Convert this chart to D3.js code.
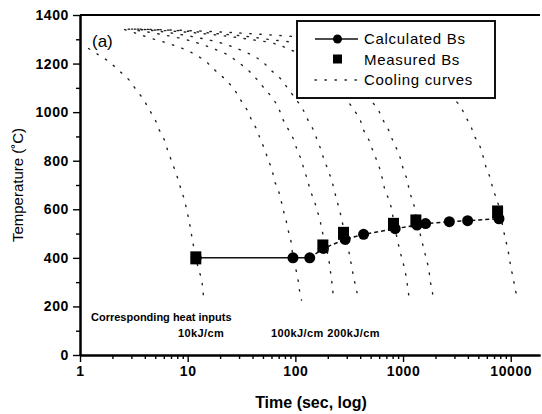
<!DOCTYPE html>
<html>
<head>
<meta charset="utf-8">
<script src="https://cdn.jsdelivr.net/npm/d3@7"></script>
<style>
  body { margin: 0; background: #fff; }
  svg { display: block; font-family: 'Liberation Sans', Arial, sans-serif; }
  .axis text { font-weight: bold; font-size: 14px; fill: #000; letter-spacing: 0.6px; }
  .axis path, .axis line { stroke: #000; }
  .cool { fill: none; stroke: #222; stroke-width: 1.4; stroke-dasharray: 1.4, 8.6; stroke-linecap: round; }
</style>
</head>
<body>
<svg id="chart" width="542" height="414"></svg>
<script>
// ---- data ----
const calcTime = [12, 95, 136, 182, 290, 430, 845, 1346, 1619, 2690, 3980, 7780];
const calcTemp = [400, 400, 400, 439, 476, 497, 520, 535, 541, 549, 553, 561];

const measTime = [11.9, 180, 280, 815, 1316, 7550];
const measTemp = [400, 449, 501, 538, 552, 589];

// cooling curves: [time (s), temperature (C)]
const cool10kJ = [[1.2, 1262], [1.46, 1238], [1.83, 1210], [2.27, 1173], [2.81, 1136], [3.29, 1095],
  [3.87, 1053], [4.37, 1012], [4.97, 970], [5.41, 929], [6.03, 889], [6.51, 844], [7.0, 805],
  [7.6, 762], [8.18, 720], [8.7, 680], [9.3, 641], [9.8, 597], [10.3, 553], [10.7, 512],
  [11.1, 470], [11.9, 400], [12.6, 355], [13.5, 309], [13.8, 268], [14.2, 226]];
const coolB = [[2.6, 1340], [3.3, 1325], [4.5, 1305], [6.29, 1286], [7.79, 1272], [9.64, 1256],
  [11.9, 1236], [14.8, 1208], [17.9, 1173], [22.2, 1136], [26.9, 1095], [30.6, 1054], [35.3, 1012],
  [39.3, 967], [43.7, 929], [47.6, 885], [52.2, 844], [56, 802], [60.6, 765], [63.7, 720],
  [69.4, 679], [73.5, 638], [77.2, 597], [81.8, 556], [86, 512], [91, 469], [95.3, 400],
  [100.5, 358], [106, 309], [109, 268], [114, 226]];
const coolC = [[2.8, 1342], [4, 1332], [6, 1318], [9, 1302], [12.1, 1286], [15, 1272], [18.6, 1256],
  [23.5, 1236], [28.9, 1208], [36.5, 1173], [43.7, 1136], [52.2, 1095], [62.3, 1054], [70.4, 1012],
  [77.3, 967], [86, 929], [97, 885], [104, 844], [114, 802], [120, 765], [130, 720], [137, 679],
  [149, 638], [158, 601], [169, 556], [177, 512], [188, 469], [196, 430], [205, 390], [211, 350],
  [217, 309], [222, 268], [228, 226]];
const coolD = [[3, 1342], [5, 1335], [8, 1322], [13, 1305], [20, 1286], [25, 1272], [31, 1256],
  [39, 1236], [48.7, 1210], [59.3, 1173], [73.5, 1136], [85.9, 1095], [101, 1054], [117, 1012],
  [130, 970], [145, 932], [158, 890], [172, 848], [184, 807], [200, 765], [217, 720], [230, 679],
  [242, 638], [256, 601], [270, 556], [283, 515], [298, 473], [312, 432], [324, 394], [338, 350],
  [352, 309], [371, 265], [384, 224]];
const coolE = [[3.2, 1342], [6, 1336], [12, 1326], [24, 1312], [40, 1298], [59, 1286], [75, 1272],
  [91, 1256], [115, 1236], [143, 1210], [174, 1173], [216, 1136], [253, 1095], [297, 1054],
  [345, 1013], [398, 970], [427, 929], [482, 885], [522, 844], [569, 802], [610, 765], [647, 720],
  [680, 679], [740, 638], [784, 601], [812, 560], [850, 515], [891, 469], [936, 429], [991, 387],
  [1040, 350], [1080, 309], [1117, 265], [1142, 224]];
const coolF = [[3.4, 1342], [8, 1336], [16, 1326], [35, 1312], [60, 1298], [97, 1286], [124, 1272],
  [150, 1256], [190, 1236], [236, 1210], [287, 1173], [356, 1136], [417, 1095], [490, 1054],
  [581, 1013], [647, 970], [729, 929], [800, 885], [875, 848], [950, 807], [1005, 765], [1094, 720],
  [1142, 679], [1219, 638], [1291, 601], [1340, 552], [1410, 515], [1490, 473], [1575, 429],
  [1657, 391], [1741, 350], [1778, 309], [1867, 265], [1906, 224]];
const coolG = [[3.6, 1342], [10, 1336], [30, 1326], [80, 1314], [150, 1305], [300, 1298], [590, 1286],
  [760, 1272], [915, 1256], [1160, 1236], [1440, 1210], [1750, 1173], [2170, 1136], [2540, 1095],
  [2990, 1054], [3428, 1022], [3812, 981], [4244, 944], [4584, 903], [5174, 860], [5556, 816],
  [5888, 775], [6412, 732], [6792, 690], [7290, 649], [7820, 608], [8300, 545], [8830, 487],
  [9280, 446], [9690, 402], [10040, 359], [10550, 318], [10940, 275], [11590, 233]];
const coolingCurves = [cool10kJ, coolB, coolC, coolD, coolE, coolF, coolG];

const xMajor = [1, 10, 100, 1000, 10000];
const yMajor = [0, 200, 400, 600, 800, 1000, 1200, 1400];

// ---- chart ----
const svg = d3.select('#chart');
const margin = {top: 15, right: 2, bottom: 59, left: 80},
    width = +svg.attr('width') - margin.left - margin.right,
    height = +svg.attr('height') - margin.top - margin.bottom;

const g = svg.append('g')
  .attr('transform', 'translate(' + margin.left + ',' + margin.top + ')');

const x = d3.scaleLog().domain([1, 18700]).range([0, width]);
const y = d3.scaleLinear().domain([0, 1400]).range([height, 0]);

// minor ticks
const xMinor = [];
xMajor.forEach(function(d) {
  for (let k = 2; k <= 9; k++) { if (d * k <= 18700) xMinor.push(d * k); }
});
const yMinor = d3.range(100, 1400, 200);

// cooling curves first, under everything
const line = d3.line()
  .x(function(d) { return x(d[0]); })
  .y(function(d) { return y(d[1]); })
  .curve(d3.curveCatmullRom);

g.selectAll('.cool')
  .data(coolingCurves)
  .enter()
  .append('path')
  .attr('class', 'cool')
  .attr('d', line);

// axes
g.append('g')
  .attr('class', 'axis')
  .attr('transform', 'translate(0,' + height + ')')
  .call(d3.axisBottom(x).tickValues(xMinor).tickSize(4).tickSizeOuter(0).tickFormat(''));

g.append('g')
  .attr('class', 'x axis')
  .attr('transform', 'translate(0,' + height + ')')
  .call(d3.axisBottom(x).tickValues(xMajor).tickSize(7).tickSizeOuter(0).tickPadding(4)
    .tickFormat(d3.format('d')));

g.append('g')
  .attr('class', 'axis')
  .call(d3.axisLeft(y).tickValues(yMinor).tickSize(4).tickSizeOuter(0).tickFormat(''));

g.append('g')
  .attr('class', 'y axis')
  .call(d3.axisLeft(y).tickValues(yMajor).tickSize(7).tickSizeOuter(0).tickPadding(4)
    .tickFormat(d3.format('d')));

g.selectAll('.axis path').attr('stroke-width', 2);
g.selectAll('.axis line').attr('stroke-width', 1.4);

// top frame line
g.append('line')
  .attr('x1', 0).attr('x2', width)
  .attr('y1', 0).attr('y2', 0)
  .attr('stroke', '#000').attr('stroke-width', 2);

// calculated Bs line: solid on the flat part, dashed after
const bsLine = d3.line()
  .x(function(d) { return x(d[0]); })
  .y(function(d) { return y(d[1]); });

const calc = calcTime.map(function(t, i) { return [t, calcTemp[i]]; });

g.append('path')
  .attr('d', bsLine(calc.slice(0, 3)))
  .attr('fill', 'none').attr('stroke', '#111').attr('stroke-width', 1.5);

g.append('path')
  .attr('d', bsLine(calc.slice(2)))
  .attr('fill', 'none').attr('stroke', '#111').attr('stroke-width', 1.5)
  .attr('stroke-dasharray', '4,3');

g.selectAll('.calc')
  .data(calc)
  .enter()
  .append('circle')
  .attr('class', 'calc')
  .attr('cx', function(d) { return x(d[0]); })
  .attr('cy', function(d) { return y(d[1]); })
  .attr('r', 5.5)
  .attr('fill', '#000');

g.selectAll('.meas')
  .data(measTime)
  .enter()
  .append('rect')
  .attr('class', 'meas')
  .attr('x', function(d) { return x(d) - 5.5; })
  .attr('y', function(d, i) { return y(measTemp[i]) - 6.5; })
  .attr('width', 11)
  .attr('height', 13)
  .attr('fill', '#000');

// legend
const lg = svg.append('g').attr('transform', 'translate(297,21)');
lg.append('rect')
  .attr('width', 198).attr('height', 77)
  .attr('fill', '#fff').attr('stroke', '#111').attr('stroke-width', 2);
lg.append('line')
  .attr('x1', 18).attr('x2', 61).attr('y1', 18).attr('y2', 18)
  .attr('stroke', '#111').attr('stroke-width', 1.5);
lg.append('circle').attr('cx', 40.5).attr('cy', 18).attr('r', 4.5).attr('fill', '#000');
lg.append('rect').attr('x', 36).attr('y', 33.5).attr('width', 9).attr('height', 9).attr('fill', '#000');
lg.append('line')
  .attr('x1', 18).attr('x2', 61).attr('y1', 59).attr('y2', 59)
  .attr('class', 'cool');
const legendLabels = ['Calculated Bs', 'Measured Bs', 'Cooling curves'];
lg.selectAll('.lgtext')
  .data(legendLabels)
  .enter()
  .append('text')
  .attr('class', 'lgtext')
  .attr('x', 67)
  .attr('y', function(d, i) { return 18 + i * 20.5; })
  .attr('dy', '0.36em')
  .attr('font-size', '15px')
  .attr('letter-spacing', '0.7px')
  .text(function(d) { return d; });

// annotations
svg.append('text')
  .attr('x', 92).attr('y', 47)
  .attr('font-size', '17px')
  .text('(a)');

svg.append('text')
  .attr('x', 91).attr('y', 321)
  .attr('font-size', '11px').attr('font-weight', 'bold')
  .text('Corresponding heat inputs');
svg.append('text')
  .attr('x', 178).attr('y', 337)
  .attr('font-size', '11px').attr('font-weight', 'bold').attr('letter-spacing', '0.4px')
  .text('10kJ/cm');
svg.append('text')
  .attr('x', 271).attr('y', 337)
  .attr('font-size', '11px').attr('font-weight', 'bold').attr('letter-spacing', '0.4px')
  .text('100kJ/cm 200kJ/cm');

// axis titles
svg.append('text')
  .attr('x', 311).attr('y', 408)
  .attr('text-anchor', 'middle')
  .attr('font-size', '16px').attr('font-weight', 'bold')
  .text('Time (sec, log)');

svg.append('text')
  .attr('transform', 'translate(23,' + (margin.top + y(700)) + ') rotate(-90)')
  .attr('text-anchor', 'middle')
  .attr('font-size', '15px')
  .text('Temperature (\u02DAC)');
</script>
</body>
</html>
